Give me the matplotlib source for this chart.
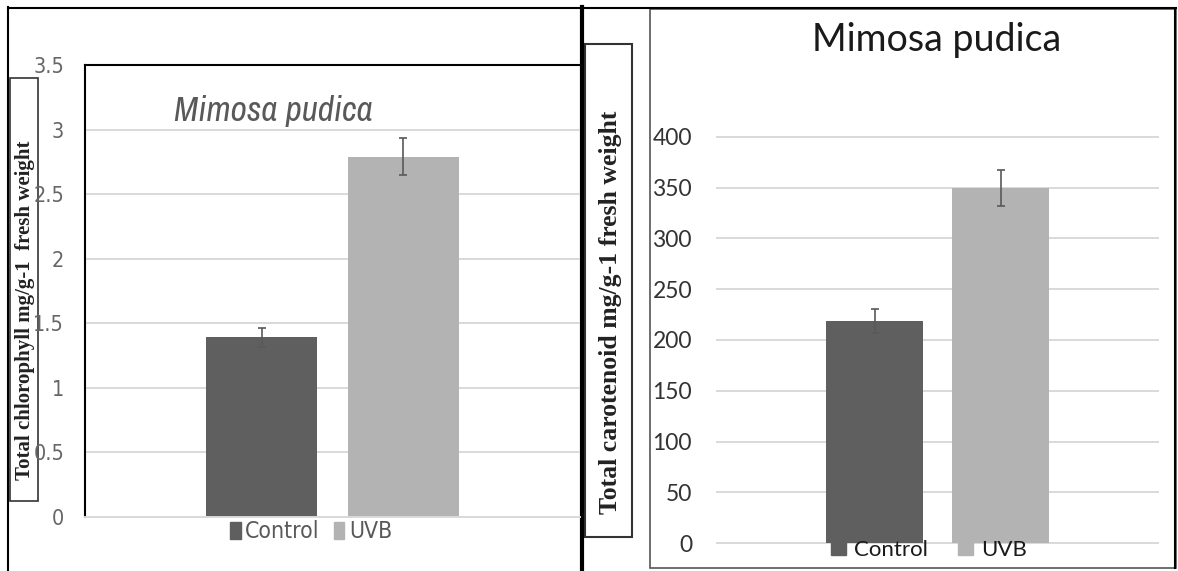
import matplotlib
matplotlib.use('Agg')
import matplotlib.pyplot as plt
from matplotlib.patches import Rectangle, Patch
from matplotlib.lines import Line2D
from matplotlib import font_manager

# data
groups = ['Control', 'UVB']
chlorophyll = [1.39, 2.79]
chlorophyll_err = [0.07, 0.145]
carotenoid = [219, 350]
carotenoid_err = [12, 17.5]
chl_ticks = [0, 0.5, 1, 1.5, 2, 2.5, 3, 3.5]
car_ticks = [0, 50, 100, 150, 200, 250, 300, 350, 400]

W, H = 1178, 571
bar_colors = ['#5f5f5f', '#b3b3b3']
grid_c = '#d9d9d9'

sans = 'Lato'
serif = 'Liberation Serif'


def find_narrow(style):
    # any condensed sans face that is installed
    for f in font_manager.fontManager.ttflist:
        n = f.name
        if 'Serif' in n or 'Mono' in n:
            continue
        cond = 'Narrow' in n or 'Condensed' in n or f.stretch in ('condensed', 'semi-condensed')
        if cond and f.style == style and f.weight in (400, 'normal', 'regular', 'book'):
            return font_manager.FontProperties(fname=f.fname)
    return None


narrow = find_narrow('normal')
narrow_it = find_narrow('italic') or find_narrow('oblique')
if narrow is None:
    narrow = font_manager.FontProperties(family=sans)
if narrow_it is None:
    narrow_it = font_manager.FontProperties(family=sans, style='italic')


def fp(base, size):
    p = base.copy()
    p.set_size(size)
    return p


def px(x0, y0, x1, y1):
    return [x0 / W, 1 - y1 / H, (x1 - x0) / W, (y1 - y0) / H]


fig = plt.figure(figsize=(W / 100, H / 100), dpi=100)

# frame lines and label boxes, drawn in pixel space
deco = fig.add_axes([0, 0, 1, 1])
deco.set_xlim(0, W)
deco.set_ylim(H, 0)
deco.axis('off')
deco.add_line(Line2D([8, 1176], [7.5, 7.5], color='black', lw=1.5))
deco.add_line(Line2D([8, 8], [7, H], color='black', lw=1.5))
deco.add_line(Line2D([581.5, 581.5], [7, H], color='black', lw=3))
deco.add_patch(Rectangle((10, 78), 28, 423, fill=False, ec='#333333', lw=1.2))
deco.add_patch(Rectangle((585, 44), 47, 493, fill=False, ec='#333333', lw=1.5))
deco.add_patch(Rectangle((650, 9), 526, 559, fill=False, ec='#555555', lw=1.2))
deco.add_line(Line2D([1175, 1175], [9, 568], color='black', lw=1.5))

deco.text(25, 310, 'Total chlorophyll mg/g-1  fresh weight', rotation=90,
          ha='center', va='center', family=serif, weight='bold', fontsize=15,
          color='#222222')
deco.text(610, 312, 'Total carotenoid mg/g-1 fresh weight', rotation=90,
          ha='center', va='center', family=serif, weight='bold', fontsize=18.5,
          color='#222222')
deco.text(174, 121, 'Mimosa pudica', ha='left', va='baseline',
          fontproperties=fp(narrow_it, 25.5), color='#595959')
deco.text(937, 51, 'Mimosa pudica', ha='center', va='baseline', family=sans,
          fontsize=27, color='#1a1a1a')

x = [0, 1]

# left chart: chlorophyll
ax1 = fig.add_axes(px(85, 65, 580, 517))
ax1.set_facecolor('none')
ax1.bar(x, chlorophyll, width=0.785, color=bar_colors, zorder=2)
ax1.errorbar(x, chlorophyll, yerr=chlorophyll_err, fmt='none', ecolor='#595959',
             elinewidth=1.2, capsize=3, capthick=1.2, zorder=3)
ax1.set_xlim(-1.25, 2.25)
ax1.set_ylim(0, 3.5)
ax1.set_yticks(chl_ticks)
ax1.set_yticklabels([f'{v:g}' for v in chl_ticks], fontproperties=fp(narrow, 15.5))
ax1.set_xticks([])
ax1.tick_params(axis='y', length=0, pad=15, labelcolor='#666666')
ax1.grid(axis='y', color=grid_c, lw=1.4, zorder=0)
ax1.spines['right'].set_visible(False)
ax1.spines['top'].set_linewidth(1.5)
ax1.spines['left'].set_linewidth(1.5)
ax1.spines['bottom'].set_color(grid_c)
ax1.spines['bottom'].set_linewidth(1.4)

# right chart: carotenoid
ax2 = fig.add_axes(px(717, 137, 1158, 543))
ax2.set_facecolor('none')
ax2.bar(x, carotenoid, width=0.77, color=bar_colors, zorder=2)
ax2.errorbar(x, carotenoid, yerr=carotenoid_err, fmt='none', ecolor='#595959',
             elinewidth=1.2, capsize=3.2, capthick=1.2, zorder=3)
ax2.set_xlim(-1.25, 2.25)
ax2.set_ylim(0, 400)
ax2.set_yticks(car_ticks)
ax2.set_xticks([])
ax2.tick_params(axis='y', length=0, pad=18, labelsize=16.5, labelcolor='#333333')
for lab in ax2.get_yticklabels():
    lab.set_family(sans)
ax2.grid(axis='y', color=grid_c, lw=1.4, zorder=0)
for ln in ax2.get_ygridlines():
    ln.set_clip_on(False)
for s in ax2.spines.values():
    s.set_visible(False)

handles = [Patch(color=c, label=g) for c, g in zip(bar_colors, groups)]
fig.legend(handles=handles, loc='center', bbox_to_anchor=(311 / W, 1 - 532 / H),
           ncol=2, frameon=False, handlelength=0.47, handleheight=0.8,
           handletextpad=0.2, columnspacing=0.6, borderpad=0,
           prop=fp(narrow, 16.5), labelcolor='#595959')
fig.legend(handles=handles, loc='center', bbox_to_anchor=(929 / W, 1 - 550 / H),
           ncol=2, frameon=False, handlelength=0.67, handleheight=0.58,
           handletextpad=0.38, columnspacing=1.35, borderpad=0,
           prop={'family': sans, 'size': 16}, labelcolor='#1a1a1a')

fig.savefig('out.png', dpi=100)
